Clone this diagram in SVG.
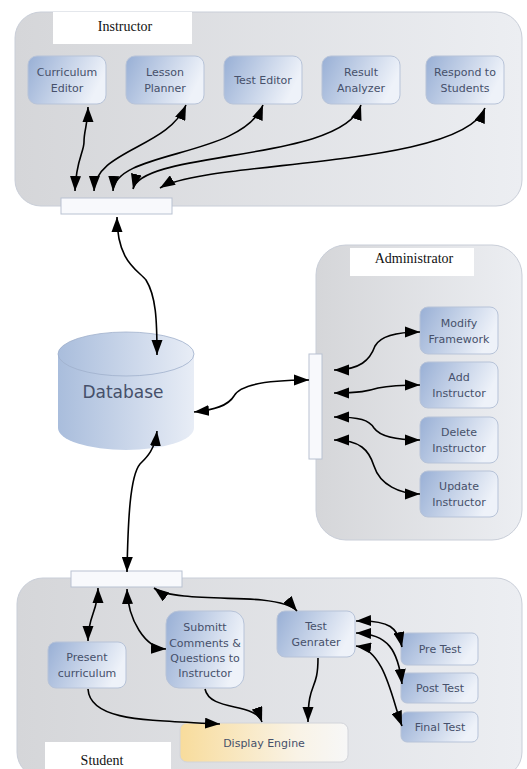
<svg xmlns="http://www.w3.org/2000/svg" width="527" height="769" viewBox="0 0 527 769">
<defs>
<linearGradient id="panel" x1="0" y1="0" x2="1" y2="0"><stop offset="0" stop-color="#d5d6d9"/><stop offset="1" stop-color="#eceef2"/></linearGradient>
<linearGradient id="node" x1="0" y1="0" x2="1" y2="0.3"><stop offset="0" stop-color="#98afd5"/><stop offset="1" stop-color="#eef2f9"/></linearGradient>
<linearGradient id="db" x1="0" y1="0" x2="1" y2="0"><stop offset="0" stop-color="#a9bddc"/><stop offset="1" stop-color="#e8edf6"/></linearGradient>
<linearGradient id="disp" x1="0" y1="0" x2="1" y2="0"><stop offset="0" stop-color="#f8dc9c"/><stop offset="0.7" stop-color="#f9f3e6"/><stop offset="1" stop-color="#f7f7f7"/></linearGradient>
<marker id="ah" viewBox="0 0 15 11" refX="15" refY="5.5" markerWidth="9.4" markerHeight="6.9" markerUnits="strokeWidth" orient="auto-start-reverse"><path d="M0,0 L15,5.5 L0,11 Z" fill="#000"/></marker>
</defs>
<style>
.panel{fill:url(#panel);stroke:#c9ced8;stroke-width:1}
.lbl{fill:#fff}
.title{font-family:"Liberation Serif",serif;font-size:14px;fill:#111;text-anchor:middle}
.node rect{fill:url(#node);stroke:#b7c3d8;stroke-width:1}
.t{font-family:"DejaVu Sans",sans-serif;font-size:11px;fill:#46506a;text-anchor:middle}
.bar{fill:#f8f9fc;stroke:#b9c2d2;stroke-width:1}
.c path{fill:none;stroke:#000;stroke-width:1.6}
</style>
<rect width="527" height="769" fill="#fff"/>

<g id="instructor-panel">
<rect class="panel" x="15" y="12" width="507" height="194" rx="26"/>
<rect class="lbl" x="53" y="12" width="139" height="32"/>
<text class="title" x="125" y="31">Instructor</text>
<rect class="bar" x="61" y="198" width="111" height="16"/>
</g>

<g id="admin-panel">
<rect class="panel" x="316" y="245" width="206" height="295" rx="30"/>
<rect class="lbl" x="350" y="248" width="124" height="28"/>
<text class="title" x="414" y="263">Administrator</text>
<rect class="bar" x="309" y="354" width="13" height="105"/>
</g>

<g id="student-panel">
<rect class="panel" x="17" y="578" width="505" height="200" rx="26"/>
<rect class="lbl" x="45" y="742" width="126" height="30"/>
<text class="title" x="102" y="765">Student</text>
<rect class="bar" x="71" y="571" width="111" height="16"/>
</g>

<g id="curriculum-editor" class="node"><rect x="28" y="56" width="78" height="48" rx="9"/><text class="t" x="67" y="76">Curriculum</text><text class="t" x="67" y="92">Editor</text></g>
<g id="lesson-planner" class="node"><rect x="126" y="56" width="78" height="48" rx="9"/><text class="t" x="165" y="76">Lesson</text><text class="t" x="165" y="92">Planner</text></g>
<g id="test-editor" class="node"><rect x="224" y="56" width="78" height="48" rx="9"/><text class="t" x="263" y="84">Test Editor</text></g>
<g id="result-analyzer" class="node"><rect x="322" y="56" width="78" height="48" rx="9"/><text class="t" x="361" y="76">Result</text><text class="t" x="361" y="92">Analyzer</text></g>
<g id="respond-students" class="node"><rect x="426" y="56" width="78" height="48" rx="9"/><text class="t" x="465" y="76">Respond to</text><text class="t" x="465" y="92">Students</text></g>

<g id="database">
<path d="M58,354 L58,428 A68,22 0 0 0 194,428 L194,354 Z" fill="url(#db)"/>
<ellipse cx="126" cy="354" rx="68" ry="22" fill="url(#db)" stroke="#9fb0cc" stroke-width="0.8"/>
<text x="123" y="398" font-family="DejaVu Sans, sans-serif" font-size="17" fill="#46506a" text-anchor="middle">Database</text>
</g>

<g id="modify-framework" class="node"><rect x="420" y="307" width="78" height="47" rx="8"/><text class="t" x="459" y="327">Modify</text><text class="t" x="459" y="343">Framework</text></g>
<g id="add-instructor" class="node"><rect x="420" y="362" width="78" height="46" rx="8"/><text class="t" x="459" y="381">Add</text><text class="t" x="459" y="397">Instructor</text></g>
<g id="delete-instructor" class="node"><rect x="420" y="417" width="78" height="46" rx="8"/><text class="t" x="459" y="436">Delete</text><text class="t" x="459" y="452">Instructor</text></g>
<g id="update-instructor" class="node"><rect x="420" y="471" width="78" height="46" rx="8"/><text class="t" x="459" y="490">Update</text><text class="t" x="459" y="506">Instructor</text></g>

<g id="present-curriculum" class="node"><rect x="48" y="642" width="78" height="46" rx="8"/><text class="t" x="87" y="661">Present</text><text class="t" x="87" y="677">curriculum</text></g>
<g id="submitt-comments" class="node"><rect x="166" y="611" width="78" height="77" rx="13"/><text class="t" x="205" y="631">Submitt</text><text class="t" x="205" y="647">Comments &amp;</text><text class="t" x="205" y="662">Questions to</text><text class="t" x="205" y="677">Instructor</text></g>
<g id="test-genrater" class="node"><rect x="277" y="611" width="78" height="46" rx="8"/><text class="t" x="316" y="630">Test</text><text class="t" x="316" y="646">Genrater</text></g>
<g id="pre-test" class="node"><rect x="401" y="633" width="77" height="32" rx="6"/><text class="t" x="440" y="653">Pre Test</text></g>
<g id="post-test" class="node"><rect x="401" y="673" width="77" height="30" rx="6"/><text class="t" x="440" y="692">Post Test</text></g>
<g id="final-test" class="node"><rect x="401" y="712" width="77" height="30" rx="6"/><text class="t" x="440" y="731">Final Test</text></g>
<g id="display-engine"><rect x="180" y="723" width="168" height="39" rx="7" fill="url(#disp)" stroke="#d2d4da" stroke-width="1"/><text class="t" x="264" y="747">Display Engine</text></g>

<g id="connectors" class="c">
<path marker-start="url(#ah)" marker-end="url(#ah)" d="M75,191 C76,160 84,152 84,142 C84,130 88,124 88,107"/>
<path marker-start="url(#ah)" marker-end="url(#ah)" d="M94,191 C95,150 168,148 186,105"/>
<path marker-start="url(#ah)" marker-end="url(#ah)" d="M113,191 C115,150 242,158 263,105"/>
<path marker-start="url(#ah)" marker-end="url(#ah)" d="M133,189 C142,150 342,162 361,105"/>
<path marker-start="url(#ah)" marker-end="url(#ah)" d="M160,188 C205,160 462,168 485,108"/>
<path marker-start="url(#ah)" marker-end="url(#ah)" d="M117,217 C117,262 138,270 146,280 C156,296 157,320 157,355"/>
<path marker-start="url(#ah)" marker-end="url(#ah)" d="M194,412 C214,410 228,406 234,396 C240,384 272,380 309,380"/>
<path marker-start="url(#ah)" marker-end="url(#ah)" d="M157,431 C155,450 146,458 140,464 C130,476 128,520 127,572"/>
<path marker-start="url(#ah)" marker-end="url(#ah)" d="M334,370 C360,370 370,360 375,346 C381,335 400,332 420,332"/>
<path marker-start="url(#ah)" marker-end="url(#ah)" d="M334,393 C360,393 368,391 378,388 C393,385 405,385 420,385"/>
<path marker-start="url(#ah)" marker-end="url(#ah)" d="M334,417 C360,417 369,420 374,428 C381,438 400,440 420,440"/>
<path marker-start="url(#ah)" marker-end="url(#ah)" d="M334,440 C360,440 369,450 374,466 C380,485 400,494 420,494"/>
<path marker-start="url(#ah)" marker-end="url(#ah)" d="M98,588 C98,612 88,615 88,641"/>
<path marker-start="url(#ah)" marker-end="url(#ah)" d="M127,589 C128,620 145,648 166,649"/>
<path marker-start="url(#ah)" marker-end="url(#ah)" d="M154,588 C170,600 230,597 262,600 C280,602 292,605 297,611"/>
<path marker-end="url(#ah)" d="M88,689 C90,722 150,720 220,724"/>
<path marker-end="url(#ah)" d="M205,689 C210,712 255,702 262,722"/>
<path marker-end="url(#ah)" d="M318,658 C318,692 308,680 308,722"/>
<path marker-start="url(#ah)" marker-end="url(#ah)" d="M356,621 C390,620 398,628 402,647"/>
<path marker-start="url(#ah)" marker-end="url(#ah)" d="M356,633 C388,634 398,650 402,684"/>
<path marker-start="url(#ah)" marker-end="url(#ah)" d="M356,646 C385,650 392,700 402,726"/>
</g>
</svg>
